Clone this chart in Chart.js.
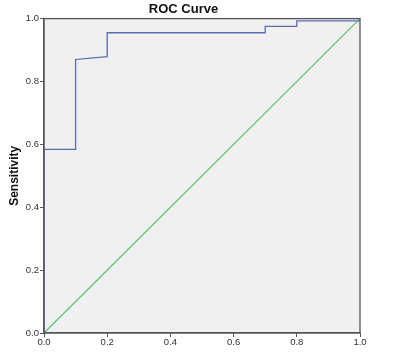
<!DOCTYPE html>
<html>
<head>
<meta charset="utf-8">
<script src="https://cdn.jsdelivr.net/npm/chart.js@4"></script>
<style>
html,body{margin:0;padding:0;background:#fff;}
#wrap{width:404px;height:353px;position:relative;}
</style>
</head>
<body>
<div id="wrap"><canvas id="c" width="404" height="353"></canvas></div>
<script>
// ROC curve data (1 - Specificity, Sensitivity)
const fpr = [0, 0, 0.1, 0.1, 0.2, 0.2, 0.7, 0.7, 0.8, 0.8, 1.0];
const tpr = [0, 0.584, 0.584, 0.870, 0.879, 0.955, 0.955, 0.975, 0.975, 0.993, 0.993];
// reference line
const refX = [0, 1];
const refY = [0, 1];
const tickLabels = ['0.0','0.2','0.4','0.6','0.8','1.0'];
const titleText = 'ROC Curve';
const yTitle = 'Sensitivity';

const FONT = 'Arimo, "Liberation Sans", Arial, sans-serif';

const areaPlugin = {
  id: 'area',
  beforeDraw(chart){
    const {ctx, chartArea:a} = chart;
    ctx.save();
    ctx.fillStyle = '#f0f0f0';
    ctx.fillRect(a.left, a.top, a.right - a.left, a.bottom - a.top);
    ctx.restore();
  },
  afterDraw(chart){
    const {ctx, chartArea:a} = chart;
    ctx.save();
    ctx.strokeStyle = '#555555';
    ctx.lineWidth = 1.3;
    ctx.strokeRect(a.left, a.top, a.right - a.left, a.bottom - a.top);
    ctx.restore();
  }
};

new Chart(document.getElementById('c'), {
  type: 'scatter',
  data: {
    datasets: [
      {
        data: fpr.map((x,i)=>({x, y: tpr[i]})),
        showLine: true,
        borderColor: '#5a6db3',
        borderWidth: 1.3,
        pointRadius: 0,
        fill: false,
        tension: 0,
        clip: false
      },
      {
        data: refX.map((x,i)=>({x, y: refY[i]})),
        showLine: true,
        borderColor: '#5ec26e',
        borderWidth: 1.2,
        pointRadius: 0,
        fill: false,
        clip: false
      }
    ]
  },
  options: {
    responsive: false,
    animation: false,
    events: [],
    layout: { padding: { left: 7, right: 44, top: 0, bottom: 0 } },
    plugins: {
      legend: { display: false },
      tooltip: { enabled: false },
      title: {
        display: true,
        text: titleText,
        color: '#111',
        font: { family: FONT, size: 13, weight: 'bold' },
        padding: { top: 2, bottom: 1 }
      }
    },
    scales: {
      x: {
        type: 'linear',
        min: 0, max: 1,
        afterFit(s){ s.height = 20; },
        border: { display: true, color: '#555', width: 1.3 },
        grid: { display: true, drawOnChartArea: false, drawTicks: true, tickLength: 4, color: '#555' },
        ticks: {
          stepSize: 0.2,
          padding: 0,
          color: '#333',
          font: { family: FONT, size: 9.5 },
          maxRotation: 0,
          callback: (v, i) => tickLabels[i]
        }
      },
      y: {
        type: 'linear',
        min: 0, max: 1,
        afterFit(s){ s.width = 37; },
        border: { display: true, color: '#555', width: 1.3 },
        grid: { display: true, drawOnChartArea: false, drawTicks: true, tickLength: 4, color: '#555' },
        title: {
          display: true,
          text: yTitle,
          color: '#111',
          font: { family: FONT, size: 12, weight: 'bold' },
          padding: { top: 0, bottom: 2 }
        },
        ticks: {
          stepSize: 0.2,
          padding: 1,
          color: '#333',
          font: { family: FONT, size: 9.5 },
          callback: (v, i) => tickLabels[i]
        }
      }
    }
  },
  plugins: [areaPlugin]
});
</script>
</body>
</html>
